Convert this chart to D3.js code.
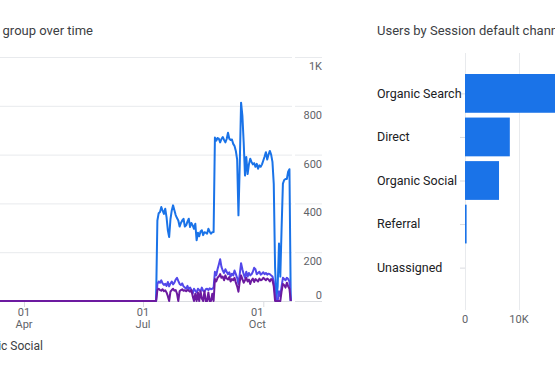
<!DOCTYPE html>
<html lang="en">
<head>
<meta charset="UTF-8">
<title>Users by Session default channel group</title>
<script src="https://d3js.org/d3.v7.min.js"></script>
<style>
    body { margin: 0; background: #fff; font-family: Roboto, Arial, sans-serif; }
    svg { display: block; }
</style>
</head>
<body>
<script>
    // Daily users per channel, from 12 Jul to 22 Oct (zero before that)
    const firstDay = "2023-07-12";
    const organicSearch = [330, 360, 365, 385, 370, 357, 378, 344, 290, 262, 335, 371, 392, 372, 352, 340, 330, 305, 320, 330,
        337, 305, 310, 325, 337, 303, 320, 310, 296, 317, 249, 280, 265, 285, 290, 270, 282, 280, 276, 296,
        284, 276, 282, 283, 670, 657, 668, 665, 650, 664, 672, 660, 650, 664, 690, 665, 660, 662, 644, 635,
        615, 580, 351, 560, 813, 760, 650, 514, 590, 520, 560, 583, 570, 560, 565, 550, 562, 542, 556, 550,
        560, 576, 592, 610, 580, 600, 615, 600, 570, 480, 140, 10, 60, 236, 100, 300, 481, 496, 500, 500,
        530, 540, 0];
    const direct = [70, 80, 75, 85, 72, 66, 70, 62, 78, 60, 72, 80, 68, 75, 88, 95, 82, 70, 65, 72,
        60, 55, 50, 62, 48, 55, 45, 30, 50, 42, 35, 50, 45, 40, 55, 42, 38, 48, 50, 45,
        52, 48, 50, 55, 120, 105, 130, 150, 171, 140, 125, 115, 130, 120, 110, 118, 100, 112, 105, 125,
        110, 95, 70, 110, 155, 130, 110, 95, 120, 100, 115, 105, 110, 120, 136, 130, 110, 115, 120, 108,
        112, 118, 110, 115, 108, 112, 110, 105, 100, 80, 30, 0, 0, 40, 20, 60, 95, 90, 85, 95,
        90, 80, 0];
    const organicSocial = [45, 50, 45, 42, 48, 40, 44, 35, 20, 0, 38, 45, 50, 42, 45, 30, 0, 40, 45, 48,
        42, 44, 40, 45, 42, 38, 45, 20, 0, 30, 0, 35, 0, 40, 10, 0, 40, 0, 0, 35,
        0, 0, 30, 0, 90, 80, 95, 100, 110, 95, 100, 85, 105, 92, 88, 98, 80, 90, 85, 95,
        75, 60, 38, 80, 105, 90, 75, 85, 95, 80, 88, 70, 85, 92, 78, 90, 85, 80, 92, 85,
        88, 95, 90, 85, 92, 88, 80, 90, 85, 60, 0, 0, 0, 0, 0, 40, 70, 65, 55, 75,
        60, 50, 0];
    const lineTicks = [0, 200, 400, 600, 800, 1000];
    const monthTicks = ["2023-04-01", "2023-07-01", "2023-10-01"];

    const channels = ["Organic Search", "Direct", "Organic Social", "Referral", "Unassigned"];
    const channelUsers = [24000, 8300, 6300, 300, 0];
    const barTicks = [0, 10000, 20000, 30000];

    const W = 555, H = 370;
    const svg = d3.select("body").append("svg").attr("width", W).attr("height", H);
    const textDark = "#3c4043", textGrey = "#5f6368", gridCol = "#e8eaed";

    // ---------- line chart (left card, cropped) ----------
    const parse = d3.utcParse("%Y-%m-%d");
    const x = d3.scaleUtc()
        .domain([parse("2023-04-01"), parse("2023-10-01")])
        .range([24, 263.3]);
    const y = d3.scaleLinear().domain([0, 1000]).range([301, 57]);

    svg.append("text")
        .attr("x", 93).attr("y", 35)
        .attr("text-anchor", "end")
        .attr("fill", textDark)
        .style("font-size", "13px")
        .text("Users by Session default channel group over time");

    const grid = svg.append("g");
    grid.selectAll("line.a").data(lineTicks).join("line")
        .attr("x1", -5).attr("x2", 292)
        .attr("y1", d => y(d) + 0.5).attr("y2", d => y(d) + 0.5)
        .attr("stroke", d => d === 0 ? "#dadce0" : gridCol);
    grid.selectAll("line.b").data(lineTicks).join("line")
        .attr("x1", 295).attr("x2", 322)
        .attr("y1", d => y(d) + 0.5).attr("y2", d => y(d) + 0.5)
        .attr("stroke", d => d === 0 ? "#dadce0" : gridCol);

    svg.append("g").selectAll("text").data(lineTicks).join("text")
        .attr("x", 322)
        .attr("y", d => d === 0 ? y(d) - 2 : y(d) + 13)
        .attr("text-anchor", "end")
        .attr("fill", textGrey)
        .style("font-size", "11px")
        .text(d => d3.format("~s")(d).replace("k", "K"));

    // x axis ticks and labels
    const xt = svg.append("g");
    monthTicks.forEach((m, i) => {
        const px = x(parse(m));
        const lx = i === monthTicks.length - 1 ? px - 6 : px;
        xt.append("line").attr("x1", px + 0.5).attr("x2", px + 0.5)
            .attr("y1", 302).attr("y2", 307).attr("stroke", "#dadce0");
        xt.append("text").attr("x", lx).attr("y", 315.5)
            .attr("text-anchor", "middle").attr("fill", textGrey)
            .style("font-size", "11px").text(d3.utcFormat("%d")(parse(m)));
        xt.append("text").attr("x", lx).attr("y", 327.5)
            .attr("text-anchor", "middle").attr("fill", textGrey)
            .style("font-size", "11px").text(d3.utcFormat("%b")(parse(m)));
    });

    // series: zero before the first day with data
    const start = parse(firstDay);
    const leadIn = parse("2023-03-01");
    function toPoints(vals) {
        const pts = [{ date: leadIn, v: 0 }, { date: d3.utcDay.offset(start, -1), v: 0 }];
        vals.forEach((v, i) => pts.push({ date: d3.utcDay.offset(start, i), v: v }));
        return pts;
    }
    const line = d3.line().x(d => x(d.date)).y(d => y(d.v));
    const series = [
        { vals: organicSearch, color: "#1a73e8" },
        { vals: direct, color: "#5248ea" },
        { vals: organicSocial, color: "#6c1aa0" }
    ];
    svg.append("g").selectAll("path").data(series).join("path")
        .attr("d", s => line(toPoints(s.vals)))
        .attr("fill", "none")
        .attr("stroke", s => s.color)
        .attr("stroke-width", 2)
        .attr("stroke-linejoin", "round");

    // legend (only the tail is visible)
    svg.append("text")
        .attr("x", 43).attr("y", 350)
        .attr("text-anchor", "end")
        .attr("fill", textDark)
        .style("font-size", "12px")
        .text("Organic Social");

    // ---------- bar chart (right card, cropped) ----------
    const bx = d3.scaleLinear().domain([0, 10000]).range([465, 519]);
    const by = d3.scaleBand().domain(channels).range([74, 287]).paddingInner(0.11);

    svg.append("text")
        .attr("x", 377).attr("y", 35)
        .attr("fill", textDark)
        .style("font-size", "13px")
        .text("Users by Session default channel group");

    svg.append("g").selectAll("line").data(barTicks).join("line")
        .attr("x1", d => bx(d) + 0.5).attr("x2", d => bx(d) + 0.5)
        .attr("y1", 53).attr("y2", 310)
        .attr("stroke", gridCol);

    svg.append("g").selectAll("text").data(barTicks).join("text")
        .attr("x", d => bx(d)).attr("y", 323)
        .attr("text-anchor", "middle")
        .attr("fill", textGrey)
        .style("font-size", "11px")
        .text(d => d3.format("~s")(d).replace("k", "K"));

    svg.append("g").selectAll("line").data(channels).join("line")
        .attr("x1", 460).attr("x2", 465)
        .attr("y1", d => by(d) + by.bandwidth() / 2 + 0.5)
        .attr("y2", d => by(d) + by.bandwidth() / 2 + 0.5)
        .attr("stroke", "#dadce0");

    svg.append("g").selectAll("rect").data(channels).join("rect")
        .attr("x", bx(0))
        .attr("y", d => by(d))
        .attr("width", (d, i) => bx(channelUsers[i]) - bx(0))
        .attr("height", by.bandwidth())
        .attr("fill", "#1a73e8");

    svg.append("g").selectAll("text").data(channels).join("text")
        .attr("x", 377)
        .attr("y", d => by(d) + by.bandwidth() / 2)
        .attr("dy", "0.35em")
        .attr("fill", "#202124")
        .style("font-size", "12.5px")
        .text(d => d);
</script>
</body>
</html>
